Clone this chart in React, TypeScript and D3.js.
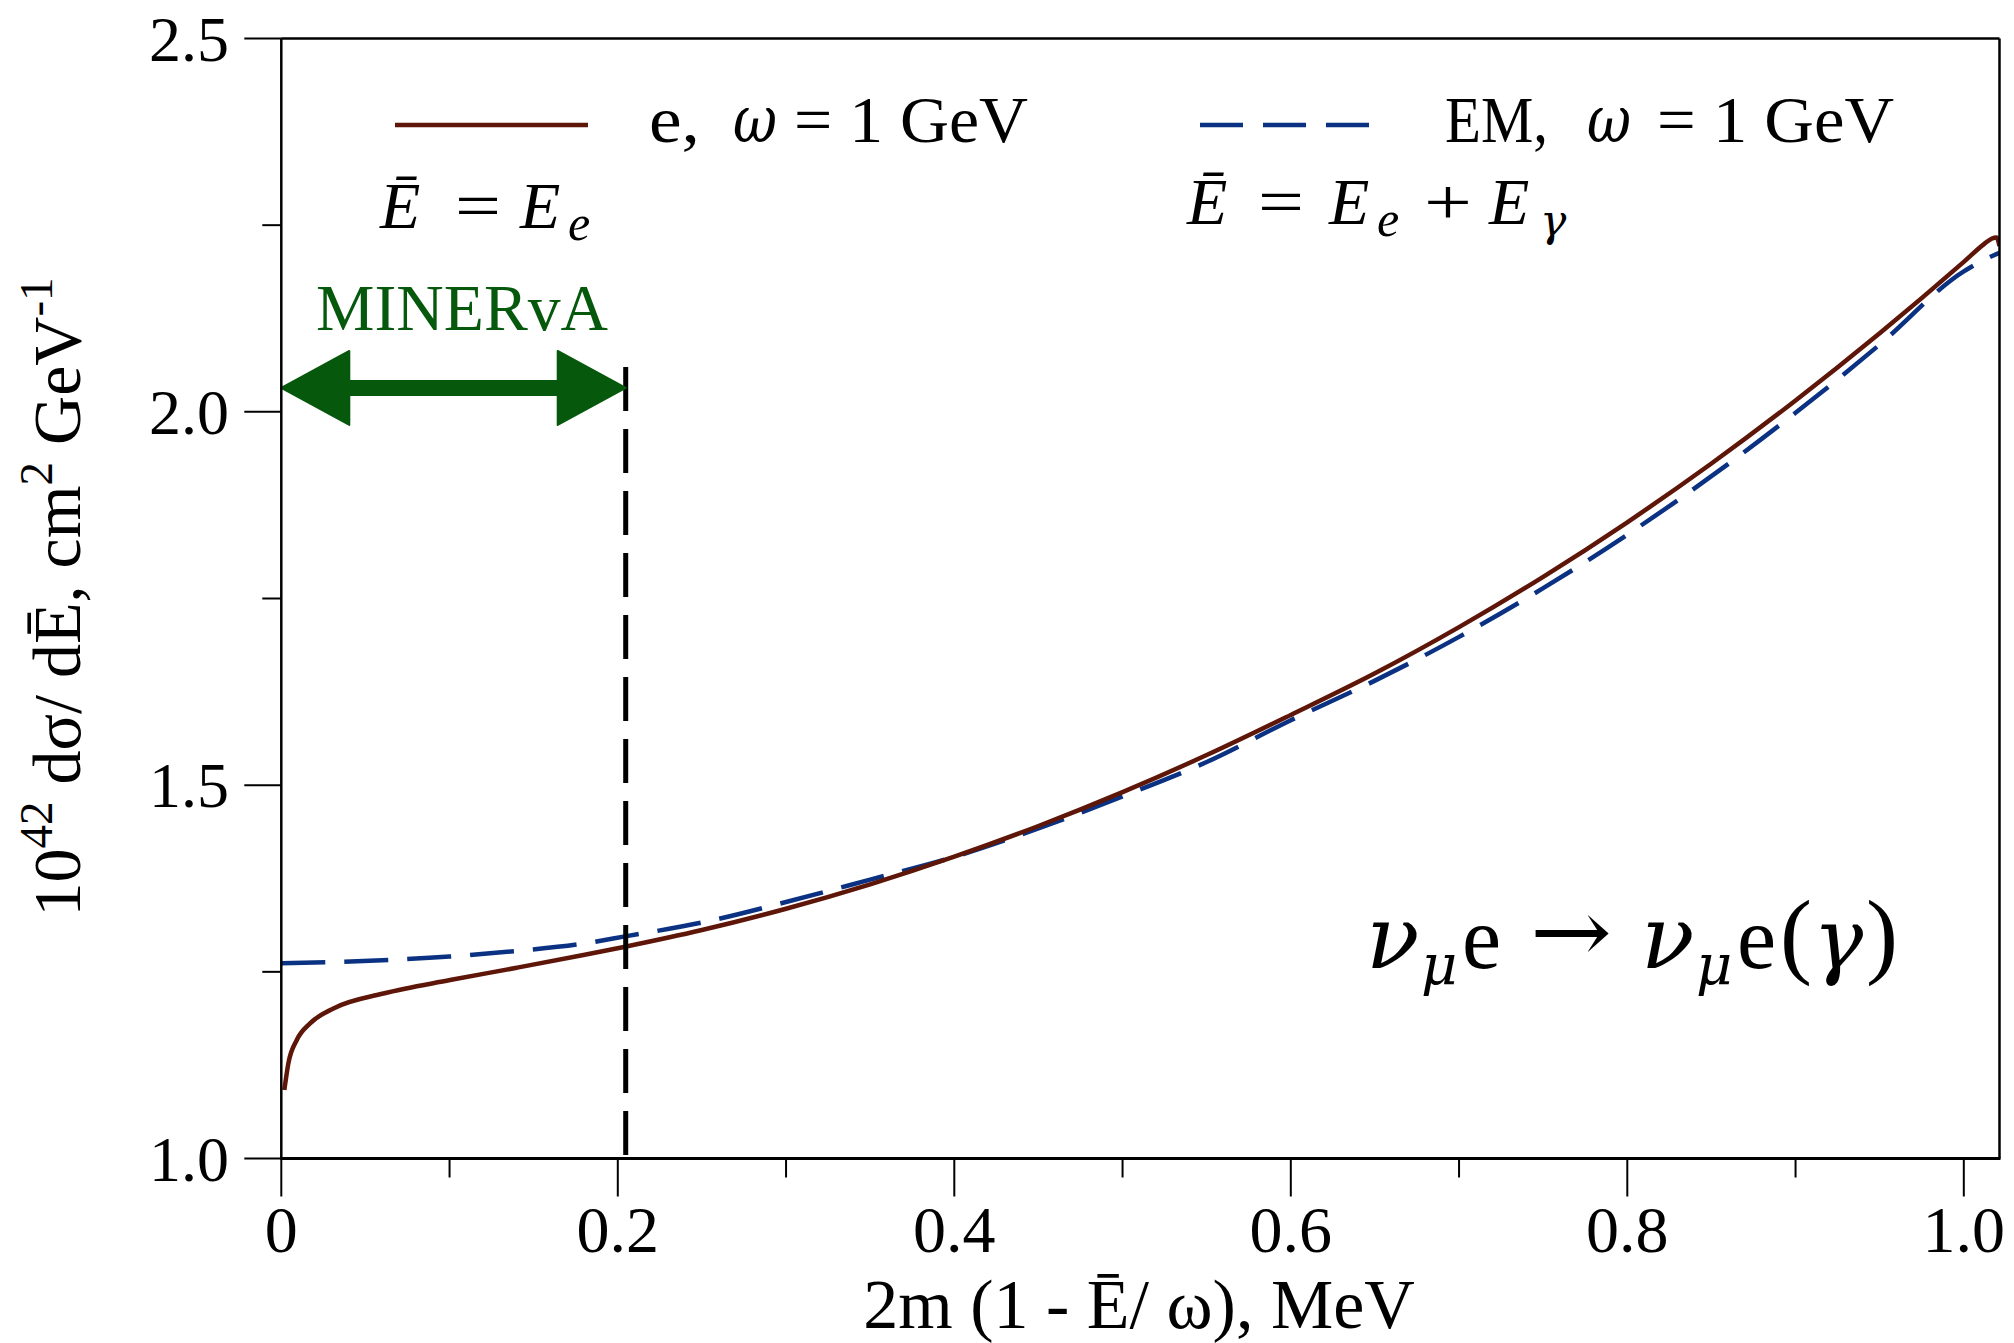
import React from 'react';
import * as d3 from 'd3';

const W = 2014;
const H = 1343;

// ---- data ----
const xTicksMajor = [0, 0.2, 0.4, 0.6, 0.8, 1.0];
const xTickLabels = ['0', '0.2', '0.4', '0.6', '0.8', '1.0'];
const xTicksMinor = [0.1, 0.3, 0.5, 0.7, 0.9];
const yTicksMajor = [1.0, 1.5, 2.0, 2.5];
const yTickLabels = ['1.0', '1.5', '2.0', '2.5'];
const yTicksMinor = [1.25, 1.75, 2.25];

// e, omega = 1 GeV,  Ebar = E_e
const electronX = [0.0018, 0.0042, 0.0092, 0.0171, 0.031, 0.0607, 0.1003, 0.14, 0.1796, 0.2044, 0.25, 0.30, 0.35, 0.40, 0.45, 0.50, 0.55, 0.60, 0.65, 0.70, 0.75, 0.80, 0.85, 0.90, 0.95, 1.00, 1.0122, 1.0165, 1.0195, 1.0212];
const electronY = [1.0917, 1.1275, 1.1587, 1.1810, 1.2010, 1.2210, 1.2390, 1.2555, 1.2725, 1.2837, 1.3060, 1.3345, 1.3672, 1.4042, 1.4453, 1.4907, 1.5403, 1.5941, 1.6498, 1.7116, 1.7790, 1.8521, 1.9308, 2.0152, 2.1052, 2.2008, 2.2250, 2.2318, 2.2335, 2.2220];

// EM, omega = 1 GeV, Ebar = E_e + E_gamma
const emX = [0, 0.06, 0.10, 0.14, 0.18, 0.2044, 0.25, 0.30, 0.35, 0.40, 0.45, 0.50, 0.55, 0.60, 0.65, 0.70, 0.75, 0.80, 0.85, 0.90, 0.95, 1.00, 1.0125, 1.0212];
const emY = [1.2614, 1.2655, 1.2705, 1.2780, 1.2880, 1.2975, 1.3160, 1.3435, 1.3735, 1.4040, 1.4420, 1.4850, 1.5310, 1.5870, 1.6400, 1.6986, 1.7638, 1.8355, 1.9138, 1.9987, 2.0901, 2.1881, 2.2040, 2.2130];

const minervaCut = 0.2047;
const minervaTop = 2.06;
const arrowLevel = 2.032;

const BROWN = '#5e1609';
const BLUE = '#0b3282';
const GREEN = '#06590c';
const FONT = '"Liberation Serif", "Times New Roman", "DejaVu Serif", serif';
const GREEK = '"DejaVu Serif", "Liberation Serif", serif';

export default function App() {
  const x = d3.scaleLinear().domain([0, 1]).range([281.3, 1963.8]);
  const y = d3.scaleLinear().domain([1, 2.5]).range([1158.5, 38.5]);
  const left = x(0);
  const right = 1999.5;
  const top = y(2.5);
  const bottom = y(1);

  const line = d3
    .line<[number, number]>()
    .x((d) => x(d[0]))
    .y((d) => y(d[1]))
    .curve(d3.curveMonotoneX);

  const ePath = line(electronX.map((v, i) => [v, electronY[i]] as [number, number])) || '';
  const emPath = line(emX.map((v, i) => [v, emY[i]] as [number, number])) || '';

  const xa = x(0);
  const xb = x(minervaCut);
  const ya = y(arrowLevel);
  const hl = 68, hh = 37, sh = 7;
  const arrow = `M${xa},${ya} L${xa + hl},${ya - hh} L${xa + hl},${ya - sh} L${xb - hl},${ya - sh} L${xb - hl},${ya - hh} L${xb},${ya} L${xb - hl},${ya + hh} L${xb - hl},${ya + sh} L${xa + hl},${ya + sh} L${xa + hl},${ya + hh} Z`;

  return (
    <svg
      width={W}
      height={H}
      viewBox={`0 0 ${W} ${H}`}
      style={{ position: 'absolute', left: 0, top: 0, background: '#fff' }}
      fontFamily={FONT}
    >
      <rect x={0} y={0} width={W} height={H} fill="#fff" />
      <defs>
        <clipPath id="plotClip">
          <rect x={left} y={top} width={right - left} height={bottom - top} />
        </clipPath>
      </defs>

      {/* curves */}
      <g clipPath="url(#plotClip)">
        <path d={emPath} fill="none" stroke={BLUE} strokeWidth={4.5} strokeDasharray="44 19" />
        <path d={ePath} fill="none" stroke={BROWN} strokeWidth={4.5} strokeLinejoin="round" />
      </g>

      {/* MINERvA cut line */}
      <line
        x1={x(minervaCut)}
        x2={x(minervaCut)}
        y1={y(minervaTop)}
        y2={bottom}
        stroke="#000"
        strokeWidth={5}
        strokeDasharray="44 18"
      />

      {/* arrow */}
      <path d={arrow} fill={GREEN} stroke={GREEN} strokeWidth={2} strokeLinejoin="round" />
      <text x={462} y={330} fontSize={66} fill={GREEN} textAnchor="middle" textLength={292} lengthAdjust="spacingAndGlyphs">
        MINERvA
      </text>

      {/* frame */}
      <line x1={left} x2={right} y1={top} y2={top} stroke="#000" strokeWidth={2.5} />
      <line x1={right} x2={right} y1={top} y2={bottom} stroke="#000" strokeWidth={2.5} />
      <line x1={left} x2={left} y1={top} y2={bottom} stroke="#000" strokeWidth={2.5} />
      <line x1={left - 1} x2={right + 1} y1={bottom} y2={bottom} stroke="#000" strokeWidth={3.2} />

      {/* x ticks */}
      {xTicksMajor.map((t) => (
        <line key={'xM' + t} x1={x(t)} x2={x(t)} y1={bottom} y2={bottom + 38} stroke="#000" strokeWidth={2} />
      ))}
      {xTicksMinor.map((t) => (
        <line key={'xm' + t} x1={x(t)} x2={x(t)} y1={bottom} y2={bottom + 19} stroke="#000" strokeWidth={2} />
      ))}
      {xTicksMajor.map((t, i) => (
        <text key={'xl' + t} x={x(t)} y={1252} fontSize={66} textAnchor="middle" fill="#000">
          {xTickLabels[i]}
        </text>
      ))}

      {/* y ticks */}
      {yTicksMajor.map((t) => (
        <line key={'yM' + t} x1={left - 37} x2={left} y1={y(t)} y2={y(t)} stroke="#000" strokeWidth={2} />
      ))}
      {yTicksMinor.map((t) => (
        <line key={'ym' + t} x1={left - 19} x2={left} y1={y(t)} y2={y(t)} stroke="#000" strokeWidth={2} />
      ))}
      {yTicksMajor.map((t, i) => (
        <text key={'yl' + t} x={229} y={y(t) + 22} fontSize={64} textAnchor="end" fill="#000">
          {yTickLabels[i]}
        </text>
      ))}

      {/* axis titles */}
      <text x={1139} y={1328} fontSize={70} textAnchor="middle" fill="#000">
        2m (1 - Ē/ ω), MeV
      </text>
      <text transform="translate(80,597) rotate(-90)" fontSize={68} textAnchor="middle" fill="#000">
        10<tspan fontSize={47} dy={-28}>42</tspan>
        <tspan dy={28}> dσ/ dĒ, cm</tspan>
        <tspan fontSize={47} dy={-28}>2</tspan>
        <tspan dy={28}> GeV</tspan>
        <tspan fontSize={47} dy={-28}>-1</tspan>
      </text>

      {/* legend: electron */}
      <line x1={395} x2={588} y1={125} y2={125} stroke={BROWN} strokeWidth={4.5} />
      <g fontSize={66} fill="#000">
        <text x={649} y={142} textLength={51} lengthAdjust="spacingAndGlyphs">e,</text>
        <text x={733} y={142} fontStyle="italic" fontFamily={GREEK} textLength={44} lengthAdjust="spacingAndGlyphs">ω</text>
        <text x={794} y={142} textLength={234} lengthAdjust="spacingAndGlyphs">= 1 GeV</text>
      </g>
      <text fontSize={66} fill="#000" y={228}>
        <tspan x={380} fontStyle="italic">Ē</tspan>
        <tspan x={455} textLength={46} lengthAdjust="spacingAndGlyphs">=</tspan>
        <tspan x={520} fontStyle="italic">E</tspan>
        <tspan x={568} y={240} fontSize={50} fontStyle="italic">e</tspan>
      </text>

      {/* legend: EM */}
      <line x1={1200} x2={1369} y1={125} y2={125} stroke={BLUE} strokeWidth={4.5} strokeDasharray="43 20" />
      <g fontSize={66} fill="#000">
        <text x={1445} y={142} textLength={103} lengthAdjust="spacingAndGlyphs">EM,</text>
        <text x={1587} y={142} fontStyle="italic" fontFamily={GREEK} textLength={44} lengthAdjust="spacingAndGlyphs">ω</text>
        <text x={1657} y={142} textLength={237} lengthAdjust="spacingAndGlyphs">= 1 GeV</text>
      </g>
      <text fontSize={66} fill="#000" y={224}>
        <tspan x={1187} fontStyle="italic">Ē</tspan>
        <tspan x={1258} textLength={46} lengthAdjust="spacingAndGlyphs">=</tspan>
        <tspan x={1329} fontStyle="italic">E</tspan>
        <tspan x={1377} y={236} fontSize={50} fontStyle="italic">e</tspan>
        <tspan x={1424} y={224} textLength={48} lengthAdjust="spacingAndGlyphs">+</tspan>
        <tspan x={1489} fontStyle="italic">E</tspan>
        <tspan x={1540} y={236} fontSize={44} fontStyle="italic" fontFamily={GREEK}>γ</tspan>
      </text>

      {/* reaction label */}
      <text fontSize={88} fill="#000" y={968}>
        <tspan x={1366} fontStyle="italic" fontFamily={GREEK}>ν</tspan>
        <tspan x={1421} y={984} fontSize={56} fontStyle="italic" fontFamily={GREEK}>μ</tspan>
        <tspan x={1462} y={968}>e</tspan>
        <tspan x={1530} y={962} fontFamily={GREEK} textLength={82} lengthAdjust="spacingAndGlyphs">→</tspan>
        <tspan x={1641} y={968} fontStyle="italic" fontFamily={GREEK}>ν</tspan>
        <tspan x={1696} y={984} fontSize={56} fontStyle="italic" fontFamily={GREEK}>μ</tspan>
        <tspan x={1737} y={968}>e</tspan>
        <tspan x={1780} y={966} fontSize={96}>(</tspan>
        <tspan x={1813} y={968} fontSize={84} fontStyle="italic" fontFamily={GREEK}>γ</tspan>
        <tspan x={1866} y={966} fontSize={96}>)</tspan>
      </text>
    </svg>
  );
}
